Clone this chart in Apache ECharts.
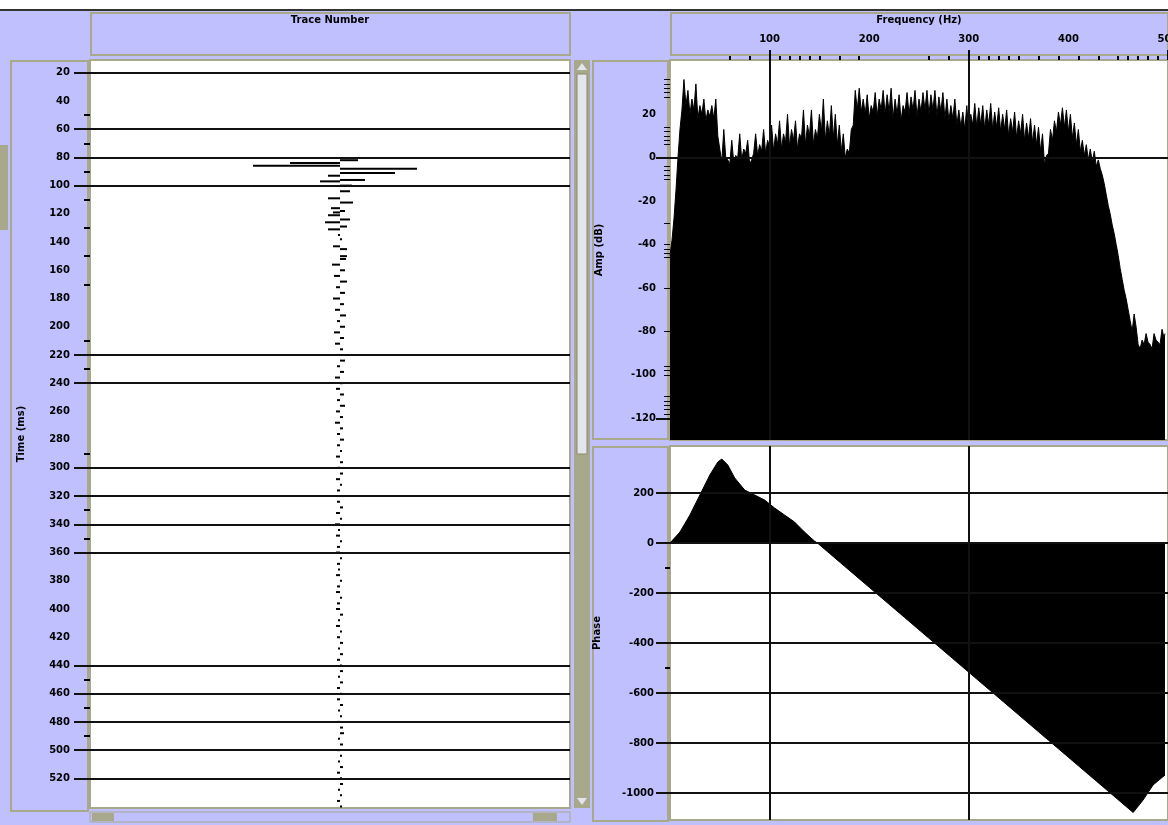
<!DOCTYPE html>
<html><head><meta charset="utf-8">
<script src="https://cdn.jsdelivr.net/npm/echarts@6/dist/echarts.min.js"></script>
<style>html,body{margin:0;padding:0;background:#c0c0ff}#c{width:1168px;height:825px}</style>
</head><body><div id="c"></div><script>
// ---- trace (time in ms, amplitude in arbitrary units) ----
const traceTime = [82,84,86,88,91,93,96,97,100,104,109,112,116,118,119,121,124,126,129,131,135,138,143,145,150,
 152,156,160,164,168,172,176,180,184,188,192,196,200,204,208,212,216,220,224,228,232,236,240,244,248,252,256,260,264,268,
 272,276,280,284,288,292,296,300,304,308,312,316,320,324,328,332,336,340,344,348,352,356,360,364,368,372,376,380,384,388,
 392,396,400,404,408,412,416,420,424,428,432,436,440,444,448,452,456,460,464,468,472,476,480,484,488,492,496,500,504,508,
 512,516,520,524,528,532,536,540];
const traceAmp = [0.18,-0.50,-0.87,0.77,0.55,-0.12,0.25,-0.20,0.12,0.10,-0.12,0.13,-0.09,0.05,-0.07,-0.12,0.10,-0.15,0.07,-0.12,-0.02,0.02,-0.07,0.07,0.07,
 0.06,-0.08,0.05,-0.06,0.07,-0.04,0.05,-0.07,0.04,-0.05,0.06,-0.03,0.05,-0.06,0.04,-0.05,0.03,-0.04,0.05,-0.03,0.04,-0.05,0.03,-0.04,0.04,-0.03,0.05,-0.04,0.03,-0.05,
 0.03,-0.03,0.04,-0.03,0.02,-0.04,0.03,-0.02,0.03,-0.04,0.02,-0.03,0.02,-0.03,0.03,-0.04,0.02,-0.05,-0.02,-0.04,0.02,-0.03,-0.04,0.02,-0.03,-0.02,-0.04,0.02,-0.03,-0.04,
 0.02,-0.03,-0.04,0.03,-0.02,-0.04,0.02,-0.03,0.03,-0.02,0.03,-0.03,0.02,0.03,-0.02,0.03,-0.03,0.02,-0.03,0.03,-0.02,0.02,-0.03,0.03,0.04,-0.02,0.03,-0.03,0.02,-0.02,
 0.03,-0.03,0.02,0.03,-0.02,0.02,-0.03,0.02];
const timeLabels = [20,40,60,80,100,120,140,160,180,200,220,240,260,280,300,320,340,360,380,400,420,440,460,480,500,520];
const timeGridLines = [20,60,80,100,220,240,300,320,340,360,440,460,480,500,520];
const timeMinorTicks = [50,70,90,110,130,150,170,210,230,290,330,350,450,470,490];

// ---- amplitude spectrum (Hz, dB) ----
const specFreq = [0,2,4,6,8,10,12,14,16,18,20,22,24,26,28,30,32,34,36,38,40,42,44,46,48,
 50,52,54,56,58,60,62,64,66,68,70,72,74,76,78,80,82,84,86,88,90,92,94,96,98,
 100,102,104,106,108,110,112,114,116,118,120,122,124,126,128,130,132,134,136,138,140,142,144,146,148,
 150,152,154,156,158,160,162,164,166,168,170,172,174,176,178,180,182,184,186,188,190,192,194,196,198,
 200,202,204,206,208,210,212,214,216,218,220,222,224,226,228,230,232,234,236,238,240,242,244,246,248,
 250,252,254,256,258,260,262,264,266,268,270,272,274,276,278,280,282,284,286,288,290,292,294,296,298,
 300,302,304,306,308,310,312,314,316,318,320,322,324,326,328,330,332,334,336,338,340,342,344,346,348,
 350,352,354,356,358,360,362,364,366,368,370,372,374,376,378,380,382,384,386,388,390,392,394,396,398,
 400,402,404,406,408,410,412,414,416,418,420,422,424,426,428,430,432,434,436,438,440,442,444,446,448,
 450,452,454,456,458,460,462,464,466,468,470,472,474,476,478,480,482,484,486,488,490,492,494,496,497];
const specDb = [-45,-38,-28,-15,0,13,22,36,24,31,20,27,22,34,18,24,20,27,17,22,19,24,18,27,10,
 4,-2,13,0,-1,-3,8,-2,1,0,11,-1,4,2,8,-3,-1,2,11,1,6,3,13,2,8,
 5,15,3,11,6,17,4,11,7,20,5,13,8,17,4,11,9,22,6,15,10,22,6,13,9,
 20,12,27,8,17,10,24,9,20,6,15,3,11,0,4,2,13,15,31,22,32,21,27,20,29,
 18,24,21,30,19,27,22,31,20,29,21,32,18,27,20,29,17,24,21,30,20,28,22,31,19,
 27,21,30,22,31,20,29,22,31,19,28,21,30,18,27,17,24,18,27,15,22,14,21,13,24,
 12,20,15,25,14,23,15,24,13,22,15,25,13,21,14,23,12,20,13,22,10,18,12,21,9,
 17,11,20,8,16,9,18,7,15,6,14,3,11,-3,1,2,13,8,17,12,21,15,23,14,22,
 12,20,9,16,6,13,3,8,1,6,-1,4,-2,3,-4,-1,-5,-8,-12,-17,-22,-26,-31,-35,-40,
 -45,-51,-56,-61,-65,-70,-75,-80,-72,-78,-86,-88,-84,-86,-81,-85,-86,-88,-81,-84,-84,-86,-79,-83,-81];
const dbLabels = [20,0,-20,-40,-60,-80,-100,-120];
const dbMajorTicks = [0,-120];
const dbMinorTicks = [36,34,32,30,28,14,12,10,8,6,-4,-6,-8,-10,-30,-40,-42,-44,-46,-60,-80,-96,-98,-100,-110,-112,-114,-116,-118];

// ---- phase spectrum ----
const phaseFreq = [0,10,20,30,40,48,52,58,65,75,85,95,105,115,125,135,145,148,160,175,200,230,260,290,320,350,380,410,440,465,475,485,497];
const phaseDeg = [0,44,112,192,272,324,336,312,260,212,192,172,140,112,84,44,8,0,-41,-92,-177,-279,-381,-483,-585,-687,-789,-891,-993,-1078,-1028,-968,-928];
const phaseLabels = [200,0,-200,-400,-600,-800,-1000];
const phaseMinorTicks = [-100,-500];

// ---- frequency axis ----
const freqLabels = [100,200,300,400,500];
const freqGridLines = [100,300];
const freqMajorTicks = [100,300,500];
const freqMinorTicks = [60,80,110,120,130,140,150,170,190,260,280,310,320,330,340,350,370,390,410,430,450,460,470,480,490];

const FONT = {fontFamily:'DejaVu Sans', fontSize:10, fontWeight:'bold', color:'#000'};
const BORDER = '#a8a88c';
const chart = echarts.init(document.getElementById('c'), null, {renderer:'canvas'});

const lineMarks = {
  silent:true, symbol:'none', animation:false,
  label:{show:false},
  lineStyle:{color:'#111', width:2, type:'solid'}
};
const noAxis = {show:false};
const hiddenLine = {show:false, onZero:false};
const plain = v => String(v);

chart.setOption({
  backgroundColor:'#c0c0ff',
  animation:false,
  grid:[
    {left:90, top:60, width:480, height:748, show:true, backgroundColor:'#fff', borderColor:BORDER, borderWidth:2, outerBoundsMode:'none'},
    {left:670, top:60, width:498, height:380, show:true, backgroundColor:'#fff', borderColor:BORDER, borderWidth:2, outerBoundsMode:'none'},
    {left:670, top:446, width:498, height:374, show:true, backgroundColor:'#fff', borderColor:BORDER, borderWidth:2, outerBoundsMode:'none'}
  ],
  xAxis:[
    {gridIndex:0, type:'value', position:'top', min:-2.5, max:2.3, name:'Trace Number', nameLocation:'middle', nameGap:35,
     nameTextStyle:FONT, axisLine:hiddenLine, axisTick:noAxis, axisLabel:noAxis, splitLine:noAxis},
    {gridIndex:1, type:'value', position:'top', min:0, max:500, name:'Frequency (Hz)', nameLocation:'middle', nameGap:35,
     nameTextStyle:FONT, axisLine:hiddenLine, splitLine:noAxis,
     axisTick:{show:true, inside:false, length:10, customValues:freqMajorTicks, lineStyle:{color:'#000', width:2}},
     axisLabel:{show:true, margin:16, customValues:freqLabels, formatter:plain, ...FONT}},
    {gridIndex:1, type:'value', position:'top', min:0, max:500, axisLine:hiddenLine, splitLine:noAxis, axisLabel:noAxis,
     axisTick:{show:true, length:4, customValues:freqMinorTicks, lineStyle:{color:'#000', width:2}}},
    {gridIndex:2, type:'value', position:'top', min:0, max:500, axisLine:hiddenLine, axisTick:noAxis, axisLabel:noAxis, splitLine:noAxis}
  ],
  yAxis:[
    {gridIndex:0, type:'value', position:'left', inverse:true, min:11, max:541, name:'Time (ms)', nameLocation:'middle', nameGap:64, nameRotate:90,
     nameTextStyle:FONT, axisLine:hiddenLine, splitLine:noAxis,
     axisTick:{show:true, length:16, customValues:timeGridLines, lineStyle:{color:'#111', width:2}},
     axisLabel:{show:true, margin:20, customValues:timeLabels, formatter:plain, ...FONT}},
    {gridIndex:0, type:'value', position:'left', inverse:true, min:11, max:541, axisLine:hiddenLine, splitLine:noAxis, axisLabel:noAxis,
     axisTick:{show:true, length:6, customValues:timeMinorTicks, lineStyle:{color:'#000', width:2}}},
    {gridIndex:1, type:'value', position:'left', min:-130, max:45, name:'Amp (dB)', nameLocation:'middle', nameGap:66, nameRotate:90,
     nameTextStyle:FONT, axisLine:hiddenLine, splitLine:noAxis,
     axisTick:{show:true, length:14, customValues:dbMajorTicks, lineStyle:{color:'#111', width:2}},
     axisLabel:{show:true, margin:14, customValues:dbLabels, formatter:plain, ...FONT}},
    {gridIndex:1, type:'value', position:'left', min:-130, max:45, axisLine:hiddenLine, splitLine:noAxis, axisLabel:noAxis,
     axisTick:{show:true, length:6, customValues:dbMinorTicks, lineStyle:{color:'#000', width:1}}},
    {gridIndex:2, type:'value', position:'left', min:-1108, max:388, name:'Phase', nameLocation:'middle', nameGap:68, nameRotate:90,
     nameTextStyle:FONT, axisLine:hiddenLine, splitLine:noAxis,
     axisTick:{show:true, length:14, customValues:phaseLabels, lineStyle:{color:'#111', width:2}},
     axisLabel:{show:true, margin:16, customValues:phaseLabels, formatter:plain, ...FONT}},
    {gridIndex:2, type:'value', position:'left', min:-1108, max:388, axisLine:hiddenLine, splitLine:noAxis, axisLabel:noAxis,
     axisTick:{show:true, length:5, customValues:phaseMinorTicks, lineStyle:{color:'#000', width:2}}}
  ],
  series:[
    {type:'line', xAxisIndex:0, yAxisIndex:0, data:[], silent:true,
     markLine:{...lineMarks, data:timeGridLines.map(v=>({yAxis:v}))}},
    {type:'custom', xAxisIndex:0, yAxisIndex:0, silent:true,
     data: traceTime.map((t,i) => [traceAmp[i], t]),
     encode:{x:0, y:1},
     renderItem:(params, api) => {
       const a = api.value(0), t = api.value(1);
       const p0 = api.coord([0, t]), p1 = api.coord([a, t]);
       const w = Math.max(1, Math.abs(p1[0]-p0[0]));
       return {type:'rect', shape:{x:Math.min(p0[0],p1[0]), y:p0[1]-1, width:w, height:2}, style:{fill:'#000'}};
     }},
    {type:'line', xAxisIndex:1, yAxisIndex:2, data:specFreq.map((f,i)=>[f, specDb[i]]), symbol:'none', silent:true,
     lineStyle:{color:'#000', width:1}, areaStyle:{color:'#000', opacity:1, origin:'start'},
     markLine:{...lineMarks, data:[{yAxis:0}, ...freqGridLines.map(v=>({xAxis:v}))]}},
    {type:'line', xAxisIndex:3, yAxisIndex:4, data:phaseFreq.map((f,i)=>[f, phaseDeg[i]]), symbol:'none', silent:true,
     lineStyle:{color:'#000', width:1}, areaStyle:{color:'#000', opacity:1, origin:0},
     markLine:{...lineMarks, data:[...phaseLabels.map(v=>({yAxis:v})), ...freqGridLines.map(v=>({xAxis:v}))]}}
  ],
  graphic:[
    {type:'rect', silent:true, shape:{x:0,y:0,width:1168,height:9}, style:{fill:'#fff'}},
    {type:'rect', silent:true, shape:{x:0,y:9,width:1168,height:2}, style:{fill:'#333'}},
    {type:'rect', silent:true, shape:{x:91,y:13,width:479,height:42}, style:{fill:null, stroke:BORDER, lineWidth:2}},
    {type:'rect', silent:true, shape:{x:671,y:13,width:497,height:42}, style:{fill:null, stroke:BORDER, lineWidth:2}},
    {type:'rect', silent:true, shape:{x:11,y:61,width:77,height:750}, style:{fill:null, stroke:BORDER, lineWidth:2}},
    {type:'rect', silent:true, shape:{x:593,y:61,width:75,height:378}, style:{fill:null, stroke:BORDER, lineWidth:2}},
    {type:'rect', silent:true, shape:{x:593,y:447,width:75,height:374}, style:{fill:null, stroke:BORDER, lineWidth:2}},
    {type:'rect', silent:true, shape:{x:0,y:145,width:8,height:85}, style:{fill:BORDER}},
    {type:'rect', silent:true, shape:{x:574,y:60,width:16,height:748}, style:{fill:BORDER}},
    {type:'rect', silent:true, shape:{x:577,y:74,width:10,height:380}, style:{fill:'#e4e4ec', stroke:'#8a8a70', lineWidth:1}},
    {type:'polygon', silent:true, shape:{points:[[582,63],[577,70],[587,70]]}, style:{fill:'#e4e4ec'}},
    {type:'polygon', silent:true, shape:{points:[[582,805],[577,798],[587,798]]}, style:{fill:'#e4e4ec'}},
    {type:'rect', silent:true, shape:{x:90,y:812,width:480,height:10}, style:{fill:'#c0c0ff', stroke:BORDER, lineWidth:1}},
    {type:'rect', silent:true, shape:{x:92,y:813,width:22,height:8}, style:{fill:BORDER}},
    {type:'rect', silent:true, shape:{x:533,y:813,width:24,height:8}, style:{fill:BORDER}}
  ]
});
</script></body></html>
